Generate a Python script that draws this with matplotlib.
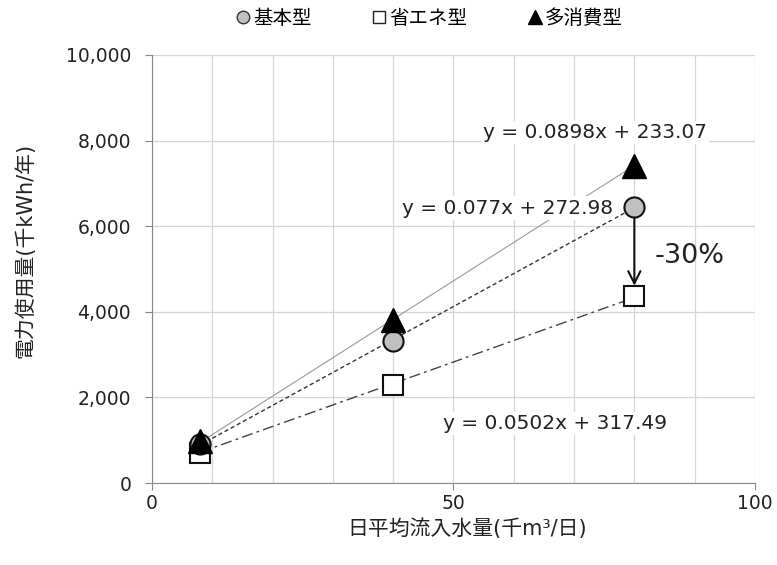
import numpy as np
import matplotlib
matplotlib.use("Agg")
import matplotlib.pyplot as plt
from matplotlib.lines import Line2D

plt.rcParams['font.family'] = ['DejaVu Sans', 'Noto Sans CJK JP']

# 日平均流入水量 (千m3/日)
flow = [8, 40, 80]
# 電力使用量 (千kWh/年)
basic = [900, 3320, 6450]
saving = [700, 2300, 4360]
heavy = [980, 3800, 7400]

series_names = ['基本型', '省エネ型', '多消費型']
# trendline coefficients (x in m3/日)
slopes = [0.077, 0.0502, 0.0898]
intercepts = [272.98, 317.49, 233.07]

x_ticks = [0, 50, 100]
y_ticks = [0, 2000, 4000, 6000, 8000, 10000]

fig = plt.figure(figsize=(7.77, 5.65), dpi=100)
ax = fig.add_axes([0.1956, 0.1451, 0.776, 0.7576])

ax.set_xlim(0, 100)
ax.set_ylim(0, 10000)
ax.set_xticks(x_ticks)
ax.set_xticks(np.arange(0, 101, 10), minor=True)
ax.set_yticks(y_ticks)
ax.set_yticklabels([f'{v:,}' for v in y_ticks])

ax.grid(which='both', color='#d6d6d6', linewidth=0.9)
ax.set_axisbelow(True)
for s in ['top', 'right']:
    ax.spines[s].set_visible(False)
for s in ['left', 'bottom']:
    ax.spines[s].set_color('#888888')
ax.tick_params(which='major', direction='out', length=5, color='#888888',
               labelsize=13.5, labelcolor='#222222')
ax.tick_params(axis='y', pad=10)
ax.tick_params(axis='x', pad=3)
ax.tick_params(which='minor', length=0)

# trendlines
x_line = np.array([flow[0], flow[-1]], dtype=float)
styles = [dict(ls=(0, (3, 2)), color='#333333', lw=1.0),
          dict(ls=(0, (8, 3, 2, 3)), color='#444444', lw=1.0),
          dict(ls='-', color='#999999', lw=0.8)]
for m, b, st in zip(slopes, intercepts, styles):
    ax.plot(x_line, m * x_line * 1000 + b, zorder=2, **st)

# data points
ax.plot(flow, basic, 'o', ms=14.5, mfc='#c0c0c0', mec='#111111', mew=1.5, zorder=4)
ax.plot(flow, saving, 's', ms=15, mfc='white', mec='#111111', mew=1.5, zorder=3)
ax.plot(flow, heavy, '^', ms=17, mfc='#000000', mec='#000000', zorder=5)

# trendline equations
box = dict(facecolor='white', edgecolor='none', pad=1.5)
eq_kw = dict(fontsize=14.5, color='#222222', bbox=box, va='center')
ax.text(54.9, 8180, 'y = 0.0898x + 233.07', zorder=6, **eq_kw)
ax.text(41.5, 6425, 'y = 0.077x + 272.98', zorder=3.5, **eq_kw)
ax.text(48.3, 1380, 'y = 0.0502x + 317.49', zorder=6, **eq_kw)

# reduction arrow
ax.annotate('', xy=(flow[2], saving[2] + 250), xytext=(flow[2], basic[2] - 250),
            arrowprops=dict(arrowstyle='->', color='#111111', lw=1.5,
                            mutation_scale=22, shrinkA=0, shrinkB=0), zorder=6)
ax.text(83.3, 5300, '-30%', fontsize=19.5, color='#222222', va='center')

ax.set_xlabel('日平均流入水量(千m³/日)', fontsize=15, color='#222222')
ax.set_ylabel('電力使用量(千kWh/年)', fontsize=15, color='#222222')
ax.xaxis.set_label_coords(0.522, -0.106)
ax.yaxis.set_label_coords(-0.21, 0.544)
ax.xaxis.label.set_va('center')
ax.yaxis.label.set_va('center')

handles = [Line2D([], [], ls='none', marker='o', ms=9, mfc='#c0c0c0', mec='#333333'),
           Line2D([], [], ls='none', marker='s', ms=9, mfc='white', mec='#222222'),
           Line2D([], [], ls='none', marker='^', ms=10, mfc='black', mec='black')]
fig.legend(handles, series_names, loc='upper center', bbox_to_anchor=(0.551, 1.015),
           ncol=3, frameon=False, fontsize=14, handletextpad=0.0,
           columnspacing=3.0, handlelength=1.0)

fig.savefig('out.png', dpi=100)
